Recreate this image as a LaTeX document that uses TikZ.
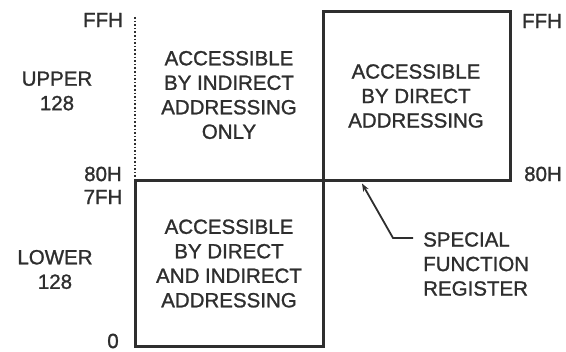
\documentclass[tikz,border=0pt]{standalone}
\usepackage{fontspec}
\setmainfont[FakeBold=1.2,BoldFont={Liberation Sans}]{Liberation Sans}
\usetikzlibrary{arrows.meta}
\definecolor{ink}{HTML}{2E2E2E}
\begin{document}
\begin{tikzpicture}[x=1pt,y=-1pt,
  lbl/.style={text=ink,font=\fontsize{20.5}{24.5}\selectfont\bfseries,align=center,inner sep=0pt},
  region/.style={draw=ink,line width=3pt,inner sep=0pt,outer sep=0pt},
  conn/.style={draw=ink,line width=1.8pt}]
\useasboundingbox (0,0) rectangle (566,352);
% regions
\node[region,minimum width=187pt,minimum height=169pt] (sfr) at (416.5,96.5) {};
\node[region,minimum width=188pt,minimum height=166pt] (low) at (229,264) {};
\node[lbl] (sfrt) at (416,96) {ACCESSIBLE\\BY DIRECT\\ADDRESSING};
\node[lbl] (lowt) at (229,263.5) {ACCESSIBLE\\BY DIRECT\\AND INDIRECT\\ADDRESSING};
\node[lbl] (indt) at (229,95) {ACCESSIBLE\\BY INDIRECT\\ADDRESSING\\ONLY};
% dotted boundary of the indirect-only region
\coordinate (dtop) at (135,17);
\draw[draw=ink,line width=1.6pt,dotted] (dtop) -- (low.north west);
\draw[draw=ink,line width=3pt] (low.north west) -- (sfr.south west);
% left labels
\node[lbl] (ffhl) at (103,20) {FFH};
\node[lbl] (h80l) at (103,174) {80H};
\node[lbl] (h7fl) at (103,197) {7FH};
\node[lbl] (zero) at (113,341) {0};
\node[lbl] (upper) at (57,91) {UPPER\\128};
\node[lbl] (lower) at (55,269.5) {LOWER\\128};
% right labels
\node[lbl] (ffhr) at (542,21) {FFH};
\node[lbl] (h80r) at (543,174) {80H};
\node[lbl,align=left,anchor=west] (sfrl) at (423,264) {SPECIAL\\FUNCTION\\REGISTER};
% pointer
\coordinate (p1) at (413,238);
\coordinate (p2) at (393,238);
\coordinate (tip) at (362,183.5);
\draw[conn,-{Stealth[length=8pt,width=6pt]}] (p1) -- (p2) -- (tip);
\end{tikzpicture}
\end{document}
